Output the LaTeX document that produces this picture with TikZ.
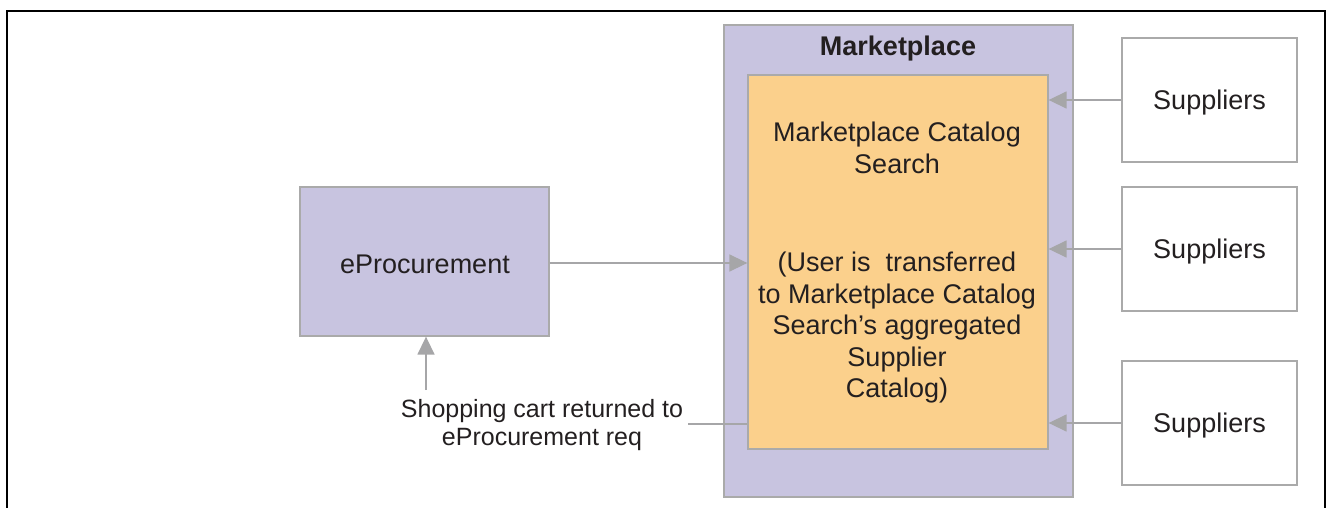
\documentclass[tikz,border=0pt]{standalone}
\usepackage{fontspec}
\setmainfont{Liberation Sans}
\usetikzlibrary{arrows.meta}
\definecolor{lav}{RGB}{200,196,224}
\definecolor{peach}{RGB}{251,208,140}
\definecolor{edge}{RGB}{170,170,170}
\definecolor{conn}{RGB}{166,166,168}
\definecolor{ink}{RGB}{35,31,32}
\tikzset{
  box/.style={draw=edge, line width=1.3pt, inner sep=0pt},
  label/.style={text=ink, font=\fontsize{27}{31.5}\selectfont, align=center, inner sep=0pt},
  small/.style={text=ink, font=\fontsize{25}{28.5}\selectfont, align=center, inner sep=0pt},
  link/.style={draw=conn, line width=1.5pt, -{Triangle[length=18pt,width=17pt]}},
  plain/.style={draw=conn, line width=1.5pt}
}
\begin{document}
\begin{tikzpicture}[x=1pt,y=-1pt]
\useasboundingbox (0,0) rectangle (1329,508);
% outer frame, open at the bottom
\draw[line width=2.5pt] (7,508) -- (7,11) -- (1325,11) -- (1325,508);

% marketplace container and its catalog panel
\node[box, fill=lav, minimum width=349pt, minimum height=472pt] (mkt) at (898.5,261) {};
\node[label, font=\bfseries\fontsize{27}{31.5}\selectfont] (mkttitle) at (898,49) {Marketplace};
\node[box, fill=peach, minimum width=300pt, minimum height=374pt] (cat) at (898,262) {};
\node[label] (cattop) at (897,148) {Marketplace Catalog\\Search};
\node[label] (catbody) at (897,328) {(User is\ \ transferred\\to Marketplace Catalog\\Search’s aggregated\\Supplier\\Catalog)};

% eProcurement
\node[box, fill=lav, minimum width=249pt, minimum height=149pt] (ep) at (424.5,261.5) {};
\node[label] (eptext) at (425,264) {eProcurement};

% suppliers
\node[box, fill=white, minimum width=175pt, minimum height=124pt] (s1) at (1209.5,100) {};
\node[box, fill=white, minimum width=175pt, minimum height=124pt] (s2) at (1209.5,249) {};
\node[box, fill=white, minimum width=175pt, minimum height=124pt] (s3) at (1209.5,423) {};
\node[label] at ([yshift=-2.5pt]s1) {Suppliers};
\node[label] at ([yshift=-2.5pt]s2) {Suppliers};
\node[label] at ([yshift=-2.5pt]s3) {Suppliers};

% connectors
\draw[link] (s1.west) -- (s1.west -| cat.east);
\draw[link] (s2.west) -- (s2.west -| cat.east);
\draw[link] (s3.west) -- (s3.west -| cat.east);
\draw[link] (ep.east |- 0,263) -- (cat.west |- 0,263);

\node[small] (ret) at (542,425) {Shopping cart returned to\\eProcurement req};
\coordinate (retend) at (688,424);
\draw[plain] (cat.west |- retend) -- (retend);
\coordinate (retup) at (426,390);
\draw[link] (retup) -- (retup |- ep.south);
\end{tikzpicture}
\end{document}
